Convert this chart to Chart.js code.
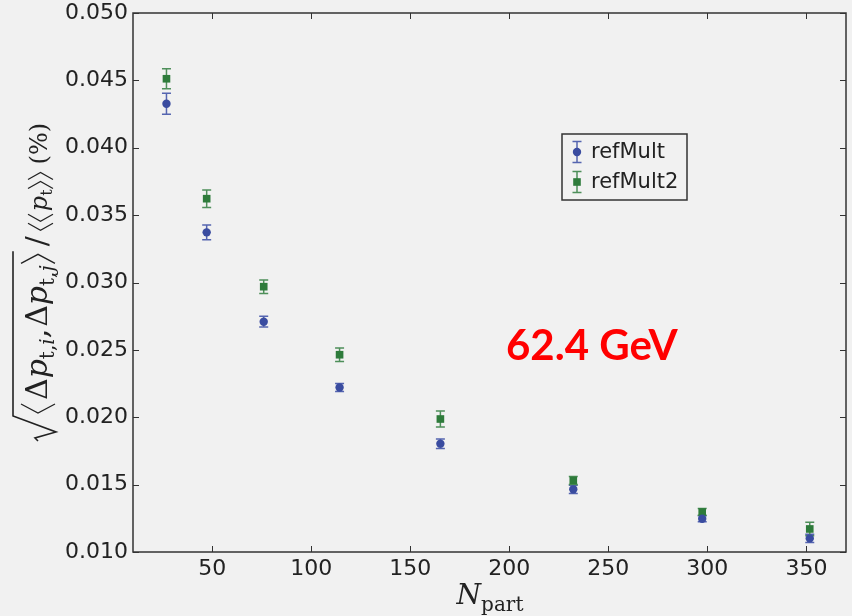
<!DOCTYPE html>
<html>
<head>
<meta charset="utf-8">
<script src="https://cdn.jsdelivr.net/npm/chart.js@4.4.0/dist/chart.umd.min.js"></script>
<style>
  html, body { margin: 0; padding: 0; background: #f1f1f1; }
</style>
</head>
<body>
<canvas id="fluct" width="852" height="616"></canvas>
<script>
// N_part centrality bins and the two multiplicity definitions
var nPart = [26.9, 47.2, 76.0, 114.3, 165.2, 232.3, 297.4, 351.7];
var refMult = [0.04327, 0.03372, 0.02709, 0.02221, 0.01804, 0.01465, 0.01247, 0.01101];
var refMultErr = [0.00078, 0.00055, 0.0004, 0.0003, 0.00035, 0.0003, 0.00022, 0.0003];
var refMult2 = [0.04512, 0.03622, 0.02969, 0.02464, 0.01987, 0.01531, 0.01297, 0.01171];
var refMult2Err = [0.00074, 0.00065, 0.0005, 0.0005, 0.0006, 0.0003, 0.00025, 0.0005];
var seriesNames = ["refMult", "refMult2"];
var xTicks = [50, 100, 150, 200, 250, 300, 350];
var energyLabel = "62.4 GeV";

var blue = "#3a4ca0";
var blueBar = "#5565b0";
var green = "#2e7b3b";
var greenBar = "#4e8f5a";
var ink = "#222";

function toPoints(xs, ys) {
  return xs.map(function (x, i) { return { x: x, y: ys[i] }; });
}

// small helpers for the LaTeX-ish titles
function seg(ctx, u, str, size, italic, dv) {
  ctx.font = (italic ? "italic " : "") + size + "px 'DejaVu Serif'";
  ctx.fillText(str, u, dv || 0);
  return u + ctx.measureText(str).width;
}
function angle(ctx, u, left, top, bottom, w) {
  var mid = (top + bottom) / 2;
  ctx.beginPath();
  if (left) {
    ctx.moveTo(u + w, top); ctx.lineTo(u, mid); ctx.lineTo(u + w, bottom);
  } else {
    ctx.moveTo(u, top); ctx.lineTo(u + w, mid); ctx.lineTo(u, bottom);
  }
  ctx.stroke();
  return u + w + 2;
}

function drawYTitle(ctx) {
  ctx.save();
  ctx.translate(47, 442);
  ctx.rotate(-Math.PI / 2);
  ctx.fillStyle = ink;
  ctx.strokeStyle = ink;
  ctx.lineWidth = 1.3;
  ctx.textBaseline = "alphabetic";
  ctx.textAlign = "left";
  var u = 29;
  u = angle(ctx, u, true, -26, 8, 9) + 2;
  u = seg(ctx, u, "\u0394", 30, false);
  u = seg(ctx, u, "p", 30, true);
  u = seg(ctx, u, "t,", 20, false, 7);
  u = seg(ctx, u, "i", 20, true, 7);
  u = seg(ctx, u, ",", 30, false) + 2;
  u = seg(ctx, u, "\u0394", 30, false);
  u = seg(ctx, u, "p", 30, true);
  u = seg(ctx, u, "t,", 20, false, 7);
  u = seg(ctx, u, "j", 20, true, 7) + 2;
  u = angle(ctx, u, false, -26, 8, 9);
  var end = u;
  // radical sign
  ctx.lineWidth = 1.6;
  ctx.beginPath();
  ctx.moveTo(1, -9);
  ctx.lineTo(4, -12);
  ctx.lineTo(10, 9);
  ctx.lineTo(26, -34);
  ctx.lineTo(end + 1, -34);
  ctx.stroke();
  ctx.lineWidth = 1.2;
  u += 6;
  u = seg(ctx, u, "/", 30, false) + 6;
  u = angle(ctx, u, true, -19, 6, 7);
  u = angle(ctx, u, true, -19, 6, 7) + 1;
  u = seg(ctx, u, "p", 24, true);
  u = seg(ctx, u, "t", 16, false, 5) + 1;
  u = angle(ctx, u, false, -19, 6, 7);
  u = angle(ctx, u, false, -19, 6, 7) + 6;
  seg(ctx, u, "(%)", 24, false);
  ctx.restore();
}

function drawXTitle(ctx) {
  ctx.save();
  ctx.fillStyle = ink;
  ctx.textBaseline = "alphabetic";
  ctx.textAlign = "left";
  ctx.font = "italic 28px 'DejaVu Serif'";
  var wN = ctx.measureText("N").width;
  ctx.font = "20px 'DejaVu Serif'";
  var wSub = ctx.measureText("part").width;
  var x0 = 490 - (wN + wSub) / 2;
  var u = seg(ctx, x0, "N", 28, true, 604);
  seg(ctx, u, "part", 20, false, 611);
  ctx.restore();
}

function errBar(ctx, x, y0, y1, cap, color) {
  ctx.strokeStyle = color;
  ctx.lineWidth = 1.5;
  ctx.beginPath();
  ctx.moveTo(x, y0); ctx.lineTo(x, y1);
  ctx.moveTo(x - cap, y0); ctx.lineTo(x + cap, y0);
  ctx.moveTo(x - cap, y1); ctx.lineTo(x + cap, y1);
  ctx.stroke();
}

var errors = [refMultErr, refMult2Err];
var barColors = [blueBar, greenBar];
var values = [refMult, refMult2];

var framePlugin = {
  id: "frame",
  beforeDatasetsDraw: function (chart) {
    var ctx = chart.ctx, xs = chart.scales.x, ys = chart.scales.y;
    ctx.save();
    values.forEach(function (vals, k) {
      vals.forEach(function (v, i) {
        var px = xs.getPixelForValue(nPart[i]);
        errBar(ctx, px, ys.getPixelForValue(v + errors[k][i]), ys.getPixelForValue(v - errors[k][i]), 4.5, barColors[k]);
      });
    });
    ctx.restore();
  },
  afterDatasetsDraw: function (chart) {
    var ctx = chart.ctx, a = chart.chartArea, xs = chart.scales.x, ys = chart.scales.y;
    ctx.save();
    // frame
    ctx.strokeStyle = "#333";
    ctx.lineWidth = 1.5;
    ctx.strokeRect(a.left, a.top, a.right - a.left, a.bottom - a.top);
    // inward ticks on all sides
    ctx.lineWidth = 1;
    ctx.beginPath();
    xTicks.forEach(function (t) {
      var px = Math.round(xs.getPixelForValue(t)) + 0.5;
      ctx.moveTo(px, a.bottom); ctx.lineTo(px, a.bottom - 6);
      ctx.moveTo(px, a.top); ctx.lineTo(px, a.top + 6);
    });
    ys.ticks.forEach(function (t) {
      var py = Math.round(ys.getPixelForValue(t.value)) + 0.5;
      ctx.moveTo(a.left, py); ctx.lineTo(a.left + 6, py);
      ctx.moveTo(a.right, py); ctx.lineTo(a.right - 6, py);
    });
    ctx.stroke();

    // legend
    ctx.lineWidth = 1.5;
    ctx.strokeStyle = "#333";
    ctx.strokeRect(562, 134, 125, 66);
    var rows = [152, 182];
    rows.forEach(function (ry, k) {
      errBar(ctx, 577, ry - 10.5, ry + 10.5, 4.5, barColors[k]);
      ctx.fillStyle = k === 0 ? blue : green;
      ctx.beginPath();
      if (k === 0) {
        ctx.arc(577, ry, 4.2, 0, Math.PI * 2);
      } else {
        ctx.rect(573.2, ry - 3.8, 7.6, 7.6);
      }
      ctx.fill();
      ctx.fillStyle = ink;
      ctx.font = "21px 'DejaVu Sans'";
      ctx.textBaseline = "middle";
      ctx.textAlign = "left";
      ctx.fillText(seriesNames[k], 591, ry + 1);
    });

    // energy annotation
    ctx.fillStyle = "#ff0000";
    ctx.font = "bold 42px Lato";
    ctx.textBaseline = "alphabetic";
    ctx.fillText(energyLabel, 506, 360);

    drawXTitle(ctx);
    drawYTitle(ctx);
    ctx.restore();
  }
};

var tickFont = { family: "'DejaVu Sans'", size: 22 };

new Chart(document.getElementById("fluct"), {
  type: "scatter",
  data: {
    datasets: [
      {
        label: seriesNames[0],
        data: toPoints(nPart, refMult),
        pointStyle: "circle",
        pointRadius: 4.2,
        backgroundColor: blue,
        borderColor: blue,
        borderWidth: 0
      },
      {
        label: seriesNames[1],
        data: toPoints(nPart, refMult2),
        pointStyle: "rect",
        pointRadius: 5.4,
        backgroundColor: green,
        borderColor: green,
        borderWidth: 0
      }
    ]
  },
  options: {
    responsive: false,
    animation: false,
    devicePixelRatio: 1,
    layout: { padding: { top: 13, right: 6, left: 0, bottom: 0 } },
    plugins: {
      legend: { display: false },
      tooltip: { enabled: false }
    },
    scales: {
      x: {
        type: "linear",
        min: 10,
        max: 370,
        afterBuildTicks: function (s) {
          s.ticks = xTicks.map(function (v) { return { value: v }; });
        },
        afterFit: function (s) {
          s.height = 64;
          s.paddingLeft = 0;
          s.paddingRight = 0;
        },
        grid: { display: false, drawTicks: false },
        border: { display: false },
        ticks: { font: tickFont, color: ink, padding: 4, maxRotation: 0 }
      },
      y: {
        min: 0.01,
        max: 0.05,
        afterFit: function (s) {
          s.width = 133;
          s.paddingTop = 0;
          s.paddingBottom = 0;
        },
        grid: { display: false, drawTicks: false },
        border: { display: false },
        ticks: {
          stepSize: 0.005,
          font: tickFont,
          color: ink,
          padding: 5,
          callback: function (v) { return v.toFixed(3); }
        }
      }
    }
  },
  plugins: [framePlugin]
});
</script>
</body>
</html>
